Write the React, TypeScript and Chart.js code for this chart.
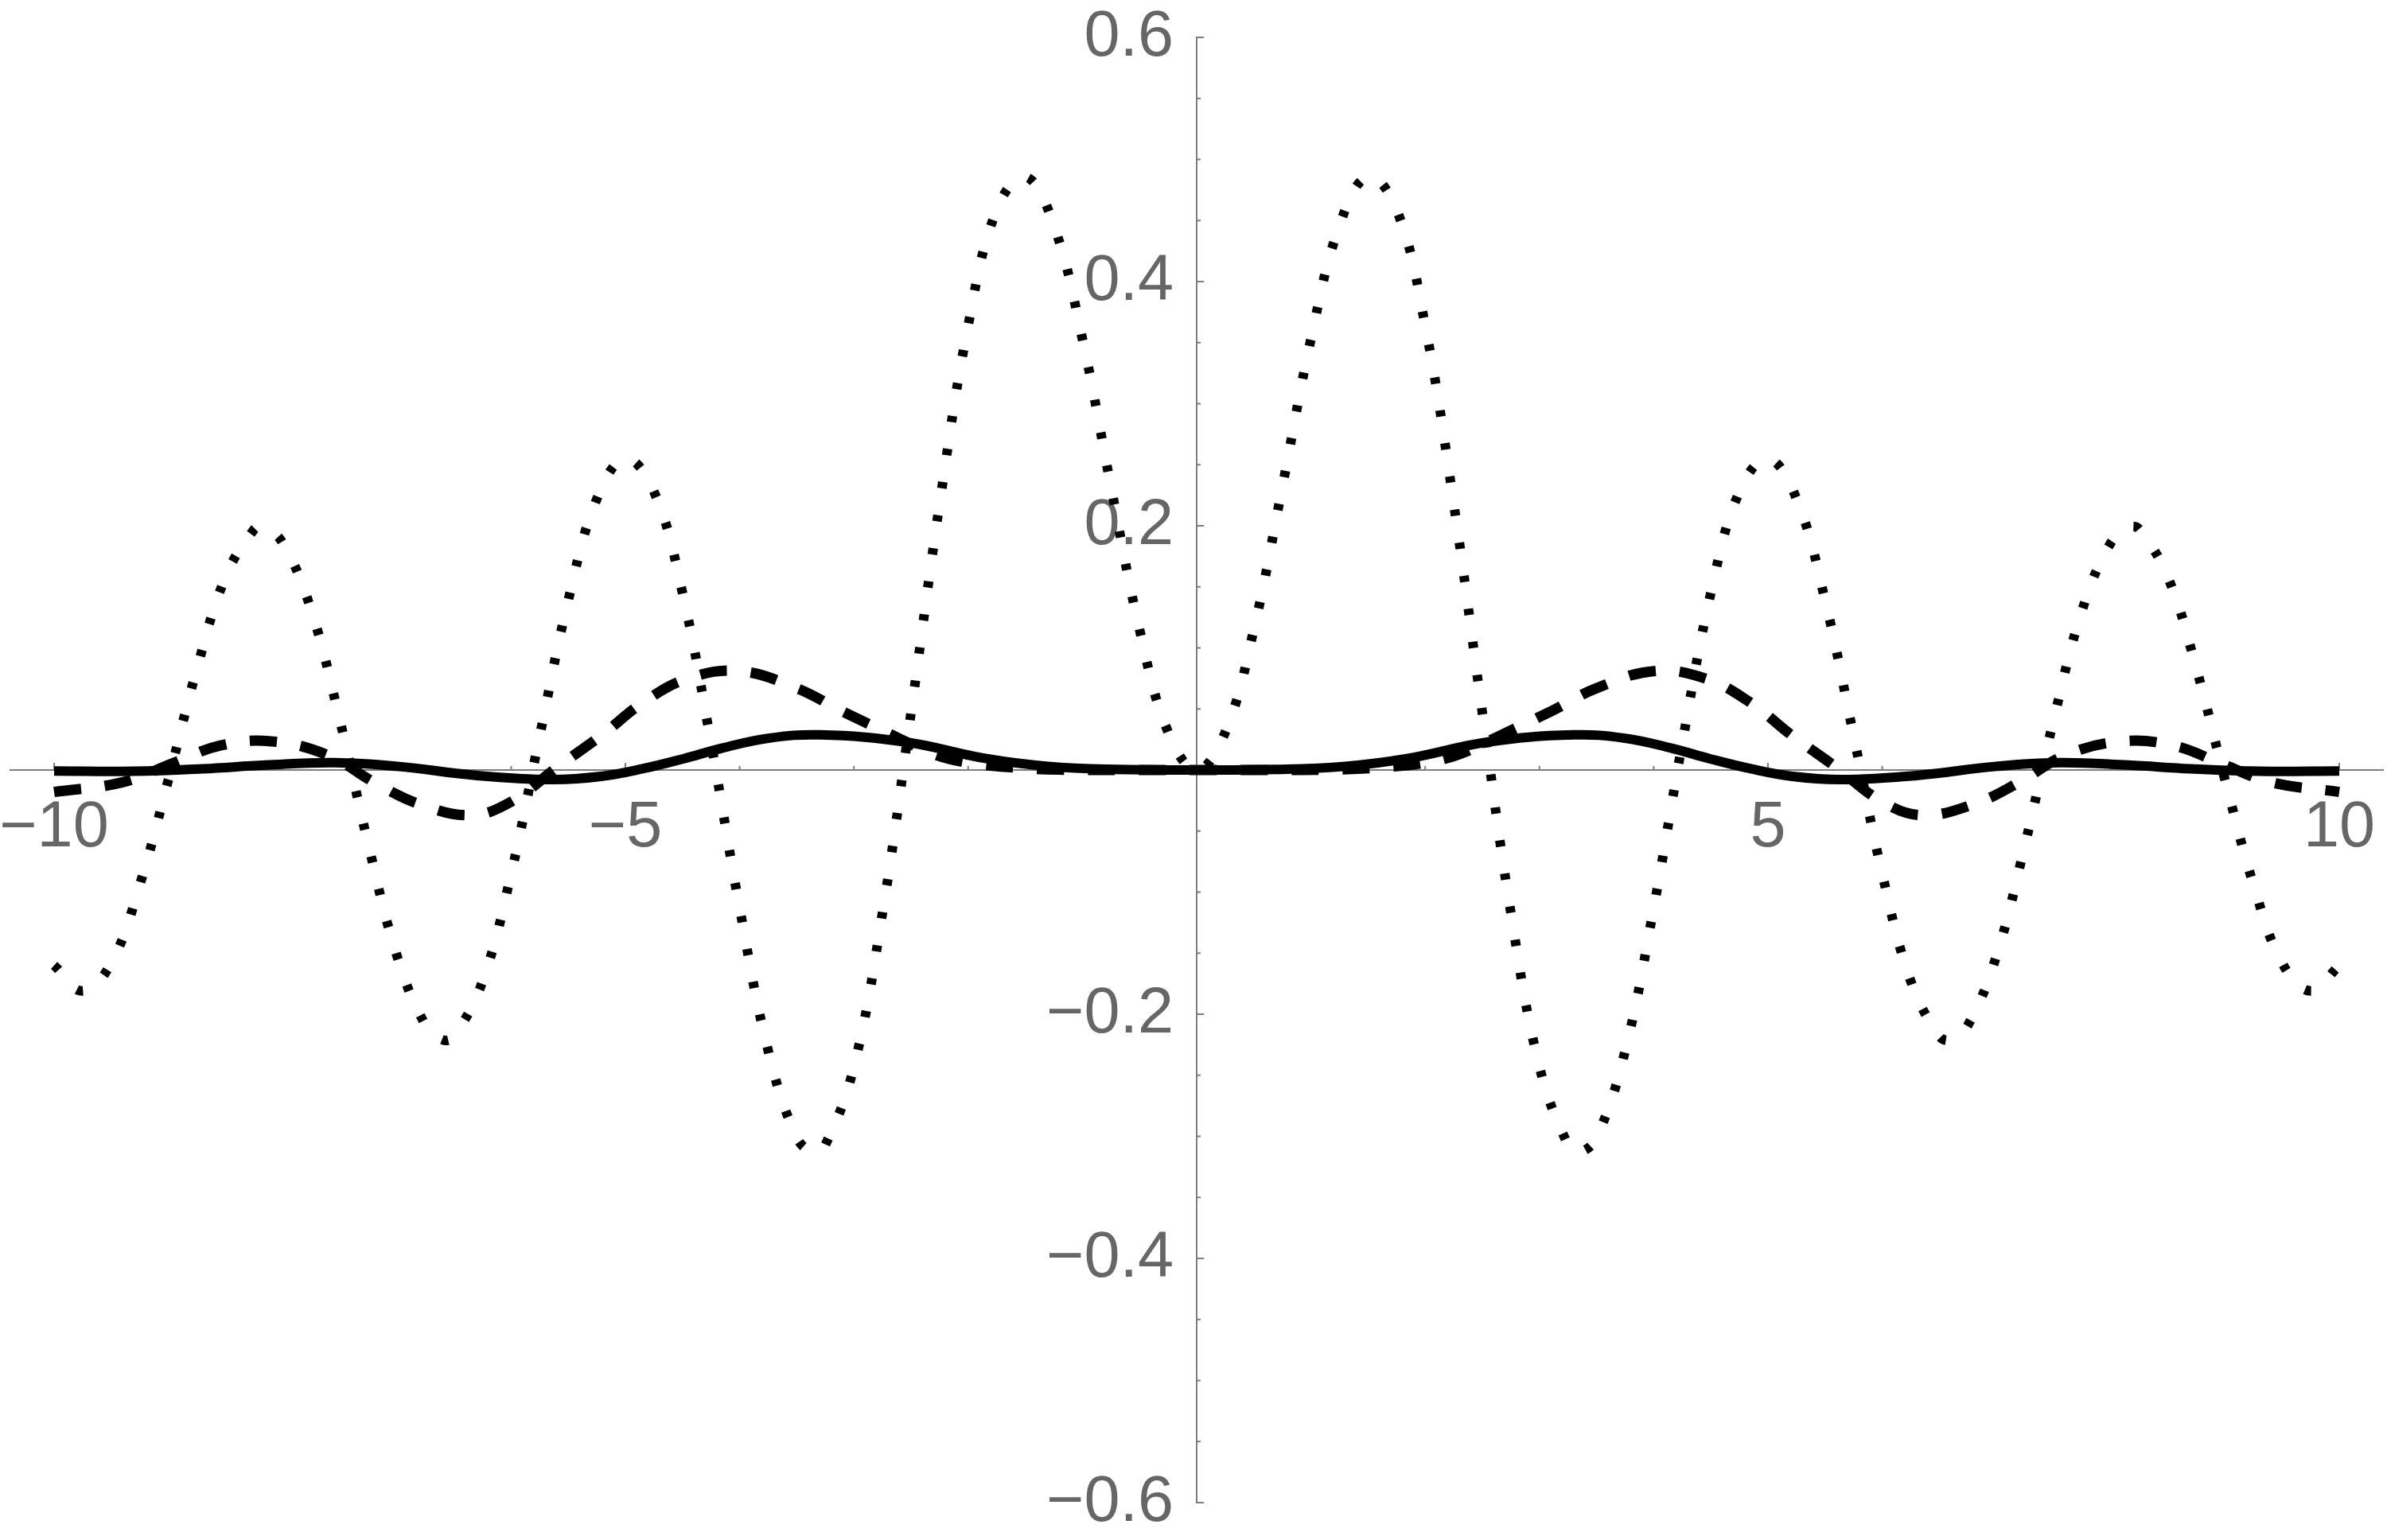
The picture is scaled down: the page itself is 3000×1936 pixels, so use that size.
import React, { useEffect, useRef } from "react";
import { Chart, registerables } from "chart.js";

Chart.register(...registerables);

// ---- data ----
const dottedX = [
  -10, -9.75, -9.5, -9.25, -9, -8.75, -8.5, -8.25, -8.17, -8, -7.75, -7.5, -7.25, -7, -6.75, -6.6,
  -6.5, -6.25, -6, -5.75, -5.5, -5.25, -5, -4.75, -4.5, -4.25, -4, -3.75, -3.5, -3.35, -3.25, -3,
  -2.75, -2.5, -2.25, -2, -1.75, -1.5, -1.25, -1, -0.75, -0.5, -0.25, 0, 0.25, 0.5, 0.75, 1, 1.25,
  1.5, 1.75, 2, 2.25, 2.5, 2.75, 3, 3.25, 3.35, 3.5, 3.75, 4, 4.25, 4.5, 4.75, 5, 5.25, 5.5, 5.75, 6,
  6.25, 6.5, 6.6, 6.75, 7, 7.25, 7.5, 7.75, 8, 8.17, 8.25, 8.5, 8.75, 9, 9.25, 9.5, 9.75, 10,
];
const dottedY = [
  -0.16, -0.181, -0.158, -0.094, -0.008, 0.083, 0.158, 0.197, 0.199, 0.186, 0.131, 0.041, -0.061,
  -0.152, -0.209, -0.221, -0.218, -0.173, -0.085, 0.028, 0.139, 0.222, 0.255, 0.228, 0.145, 0.022,
  -0.113, -0.23, -0.301, -0.313, -0.307, -0.243, -0.117, 0.047, 0.218, 0.364, 0.459, 0.486, 0.446,
  0.353, 0.232, 0.115, 0.031, 0, 0.031, 0.115, 0.232, 0.353, 0.446, 0.486, 0.459, 0.364, 0.218,
  0.047, -0.117, -0.243, -0.307, -0.313, -0.301, -0.23, -0.113, 0.022, 0.145, 0.228, 0.255, 0.222,
  0.139, 0.028, -0.085, -0.173, -0.218, -0.221, -0.209, -0.152, -0.061, 0.041, 0.131, 0.186, 0.199,
  0.197, 0.158, 0.083, -0.008, -0.094, -0.158, -0.181, -0.16,
];

const dashedX = [
  -10, -9.4, -8.95, -8.55, -8.1, -7.6, -7.2, -6.8, -6.35, -6.0, -5.6, -5.2, -4.85, -4.45, -4.0,
  -3.5, -3.1, -2.65, -2.3, -2.0, -1.6, -1.2, -0.6, 0, 0.6, 1.2, 1.6, 2.0, 2.3, 2.65, 3.1, 3.5, 4.0,
  4.45, 4.85, 5.2, 5.6, 6.0, 6.35, 6.8, 7.2, 7.6, 8.1, 8.55, 8.95, 9.4, 10,
];
const dashedY = [
  -0.018, -0.01, 0.006, 0.02, 0.0235, 0.012, -0.01, -0.028, -0.037, -0.026, 0.002, 0.029, 0.055,
  0.075, 0.081, 0.067, 0.048, 0.028, 0.013, 0.006, 0.002, 0.0003, 0, 0, 0, 0.0003, 0.002, 0.006,
  0.013, 0.028, 0.048, 0.067, 0.081, 0.075, 0.055, 0.029, 0.002, -0.026, -0.037, -0.028, -0.01,
  0.012, 0.0235, 0.02, 0.006, -0.01, -0.018,
];

const solidX = [
  -10, -9.3, -8.7, -8.15, -7.55, -7.0, -6.3, -5.65, -5.2, -4.85, -4.5, -4.15, -3.75, -3.3, -2.55,
  -1.85, -1.3, -0.7, 0, 0.7, 1.3, 1.85, 2.55, 3.3, 3.75, 4.15, 4.5, 4.85, 5.2, 5.65, 6.3, 7.0, 7.55,
  8.15, 8.7, 9.3, 10,
];
const solidY = [
  -0.0008, -0.001, 0.001, 0.004, 0.006, 0.003, -0.0045, -0.0078, -0.005, 0.001, 0.009, 0.018, 0.026,
  0.0288, 0.023, 0.0095, 0.003, 0.0005, 0, 0.0005, 0.003, 0.0095, 0.023, 0.0288, 0.026, 0.018, 0.009,
  0.001, -0.005, -0.0078, -0.0045, 0.003, 0.006, 0.004, 0.001, -0.001, -0.0008,
];

const xRange = [-10.383, 10.383];
const yRange = [-0.6, 0.6];
const xMajorTicks = [-10, -5, 5, 10];
const xMinorTicks = [-9, -8, -7, -6, -4, -3, -2, -1, 1, 2, 3, 4, 6, 7, 8, 9];
const yMajorTicks = [-0.6, -0.4, -0.2, 0.2, 0.4, 0.6];
const yMinorTicks = [
  -0.55, -0.5, -0.45, -0.35, -0.3, -0.25, -0.15, -0.1, -0.05, 0.05, 0.1, 0.15, 0.25, 0.3, 0.35,
  0.45, 0.5, 0.55,
];

const AXIS_COLOR = "rgb(125,125,125)";
const LABEL_COLOR = "rgb(102,102,102)";
const FONT_FAMILY = "'Liberation Sans', Arial, sans-serif";
const FONT_SIZE = 81;

const fmt = (v: number, digits: number) => {
  if (Math.abs(v) < 1e-9) return "";
  const s = Math.abs(v).toFixed(digits);
  return v < 0 ? "\u2212" + s : s;
};

const toPoints = (xs: number[], ys: number[]) => xs.map((x, i) => ({ x, y: ys[i] }));

const zeroPadding = (scale: any) => {
  scale.paddingLeft = 0;
  scale.paddingRight = 0;
  scale.paddingTop = 0;
  scale.paddingBottom = 0;
};

const tickPlugin = {
  id: "mmaTicks",
  beforeDatasetsDraw(chart: any) {
    const { ctx } = chart;
    const xs = chart.scales.x;
    const ys = chart.scales.y;
    const x0 = xs.getPixelForValue(0);
    const y0 = ys.getPixelForValue(0);
    ctx.save();
    ctx.strokeStyle = AXIS_COLOR;
    ctx.lineWidth = 2;
    const drawX = (v: number, len: number) => {
      const px = xs.getPixelForValue(v);
      ctx.beginPath();
      ctx.moveTo(px, y0);
      ctx.lineTo(px, y0 - len);
      ctx.stroke();
    };
    const drawY = (v: number, len: number) => {
      const py = ys.getPixelForValue(v);
      ctx.beginPath();
      ctx.moveTo(x0, py);
      ctx.lineTo(x0 + len, py);
      ctx.stroke();
    };
    xMajorTicks.forEach((v) => drawX(v, 9));
    xMinorTicks.forEach((v) => drawX(v, 5));
    yMajorTicks.forEach((v) => drawY(v, 9));
    yMinorTicks.forEach((v) => drawY(v, 5));

    // y tick labels, right-aligned a little left of the vertical axis
    ctx.fillStyle = LABEL_COLOR;
    ctx.font = `${FONT_SIZE}px ${FONT_FAMILY}`;
    ctx.textAlign = "right";
    ctx.textBaseline = "middle";
    yMajorTicks.forEach((v) => {
      ctx.fillText(fmt(v, 1), x0 - 29, ys.getPixelForValue(v) + 1);
    });
    ctx.restore();
  },
};

export default function App() {
  const ref = useRef<HTMLCanvasElement | null>(null);
  useEffect(() => {
    document.body.style.margin = "0";
    const canvas = ref.current;
    if (!canvas) return;
    const font = { family: FONT_FAMILY, size: FONT_SIZE, lineHeight: 1 };
    const chart = new Chart(canvas, {
      type: "line",
      data: {
        datasets: [
          {
            data: toPoints(dottedX, dottedY),
            borderColor: "#000",
            borderWidth: 12,
            borderDash: [8, 34],
            borderCapStyle: "butt",
            pointRadius: 0,
            tension: 0.4,
            fill: false,
          },
          {
            data: toPoints(dashedX, dashedY),
            borderColor: "#000",
            borderWidth: 13,
            borderDash: [34, 30],
            borderCapStyle: "butt",
            pointRadius: 0,
            tension: 0.4,
            fill: false,
          },
          {
            data: toPoints(solidX, solidY),
            borderColor: "#000",
            borderWidth: 12,
            pointRadius: 0,
            tension: 0.4,
            fill: false,
          },
        ],
      },
      options: {
        responsive: false,
        animation: false,
        devicePixelRatio: 1,
        layout: { padding: { left: 13, right: 5, top: 47, bottom: 47 } },
        plugins: { legend: { display: false }, tooltip: { enabled: false } },
        scales: {
          x: {
            type: "linear",
            min: xRange[0],
            max: xRange[1],
            position: { y: 0 } as any,
            grid: { display: false },
            border: { display: true, color: AXIS_COLOR, width: 2 },
            afterFit: zeroPadding,
            ticks: {
              stepSize: 5,
              includeBounds: false,
              autoSkip: false,
              maxRotation: 0,
              padding: 25,
              color: LABEL_COLOR,
              font,
              callback: (v: any) => fmt(Number(v), 0),
            },
          },
          y: {
            type: "linear",
            min: yRange[0],
            max: yRange[1],
            position: { x: 0 } as any,
            grid: { display: false },
            border: { display: true, color: AXIS_COLOR, width: 2 },
            afterFit: zeroPadding,
            ticks: {
              display: false,
              stepSize: 0.2,
              includeBounds: false,
            },
          },
        },
      },
      plugins: [tickPlugin],
    } as any);
    return () => chart.destroy();
  }, []);
  return (
    <div style={{ width: 3000, height: 1936 }}>
      <canvas ref={ref} width={3000} height={1936} style={{ display: "block" }} />
    </div>
  );
}
